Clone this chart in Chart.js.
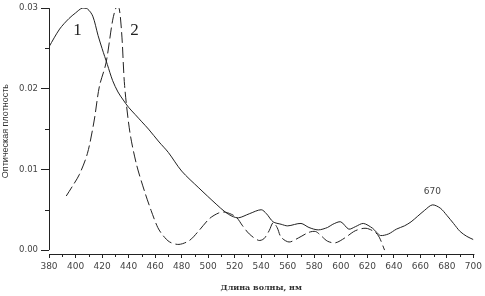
<!DOCTYPE html>
<html>
<head>
<meta charset="utf-8">
<script src="https://cdn.jsdelivr.net/npm/chart.js@4/dist/chart.umd.min.js"></script>
<style>
  html, body { margin: 0; padding: 0; background: #fff; }
  #wrap { width: 485px; height: 296px; }
</style>
</head>
<body>
<div id="wrap"><canvas id="spectrum"></canvas></div>
<script>
// Spectrum 1 (solid line)
const curve1Nm  = [380, 388, 395, 400, 405, 409, 413, 417, 420, 424, 428, 432, 436, 440, 445, 450, 455, 463, 470, 480, 493, 506, 513, 518, 523, 531, 540, 544, 549, 555, 560, 570, 576, 583, 590, 594, 600, 606, 611, 617, 624, 627, 630, 636, 642, 648, 653, 658, 663, 669, 675, 680, 685, 690, 695, 700];
const curve1Val = [0.0252, 0.0274, 0.0287, 0.0294, 0.0300, 0.0299, 0.0290, 0.0266, 0.0250, 0.0230, 0.0210, 0.0196, 0.0186, 0.0177, 0.0168, 0.0159, 0.0150, 0.0134, 0.0121, 0.0098, 0.0077, 0.0057, 0.0047, 0.0042, 0.0040, 0.0045, 0.0050, 0.0045, 0.0035, 0.0032, 0.0030, 0.0033, 0.0028, 0.0025, 0.0028, 0.0032, 0.0035, 0.0026, 0.0029, 0.0033, 0.0027, 0.0022, 0.0018, 0.0020, 0.0026, 0.0030, 0.0035, 0.0042, 0.0049, 0.0056, 0.0052, 0.0043, 0.0033, 0.0023, 0.0017, 0.0013];

// Spectrum 2 (dashed line)
const curve2Nm  = [393, 398, 403, 409, 414, 418, 423, 428, 431, 433, 435, 437, 441, 446, 452, 457, 462, 466, 471, 478, 486, 493, 501, 508, 513, 521, 526, 531, 538, 542, 546, 549, 552, 555, 561, 568, 576, 581, 585, 590, 596, 603, 611, 619, 626, 629, 633];
const curve2Val = [0.0067, 0.0080, 0.0094, 0.0120, 0.0160, 0.0203, 0.0232, 0.0285, 0.0302, 0.0299, 0.0264, 0.0204, 0.0146, 0.0106, 0.0073, 0.0049, 0.0028, 0.0018, 0.0010, 0.0007, 0.0012, 0.0024, 0.0039, 0.0046, 0.0047, 0.0041, 0.0030, 0.0020, 0.0012, 0.0014, 0.0024, 0.0034, 0.0028, 0.0016, 0.0010, 0.0015, 0.0022, 0.0023, 0.0018, 0.0011, 0.0009, 0.0015, 0.0024, 0.0027, 0.0022, 0.0016, 0.0000];

const xMajorTicks = [380, 400, 420, 440, 460, 480, 500, 520, 540, 560, 580, 600, 620, 640, 660, 680, 700];
const yMajorTicks = [0.00, 0.01, 0.02, 0.03];

// text marks on the plot: [nm, value, text]
const curveLabels = [[401.5, 0.0272, '1'], [444.5, 0.0272, '2']];
const peakLabels  = [[669, 0.0072, '670']];

const ink = '#222';

const toPoints = (xs, ys) => xs.map((x, i) => ({ x: x, y: ys[i] }));

// axes lines, minor ticks and the text marks
const decorations = {
    id: 'decorations',
    afterDraw(chart) {
        const c = chart.ctx;
        const xs = chart.scales.x, ys = chart.scales.y;
        const area = chart.chartArea;
        c.save();
        c.strokeStyle = ink;
        c.lineWidth = 1;
        c.beginPath();
        // y axis stops at zero, x axis sits a little below it
        c.moveTo(area.left + 0.5, area.top);
        c.lineTo(area.left + 0.5, ys.getPixelForValue(0));
        c.moveTo(area.left, area.bottom + 0.5);
        c.lineTo(area.right + 1, area.bottom + 0.5);
        // minor ticks
        for (let v = 390; v < 700; v += 20) {
            const px = Math.round(xs.getPixelForValue(v)) + 0.5;
            c.moveTo(px, area.bottom);
            c.lineTo(px, area.bottom + 3);
        }
        for (let v = 0.005; v < 0.03; v += 0.01) {
            const py = Math.round(ys.getPixelForValue(v)) + 0.5;
            c.moveTo(area.left, py);
            c.lineTo(area.left - 4, py);
        }
        c.stroke();

        c.fillStyle = ink;
        c.textAlign = 'center';
        c.textBaseline = 'middle';
        c.font = '17px "Liberation Serif"';
        curveLabels.forEach(([x, y, t]) => c.fillText(t, xs.getPixelForValue(x), ys.getPixelForValue(y)));
        c.font = '9px "DejaVu Sans"';
        c.fillStyle = '#444';
        peakLabels.forEach(([x, y, t]) => c.fillText(t, xs.getPixelForValue(x), ys.getPixelForValue(y)));
        c.restore();
    }
};

new Chart(document.getElementById('spectrum'), {
    type: 'line',
    data: {
        datasets: [
            {
                label: '1',
                data: toPoints(curve1Nm, curve1Val),
                borderColor: ink,
                borderWidth: 1,
                pointRadius: 0,
                tension: 0.3,
                fill: false
            },
            {
                label: '2',
                data: toPoints(curve2Nm, curve2Val),
                borderColor: ink,
                borderWidth: 1,
                borderDash: [11, 4],
                pointRadius: 0,
                tension: 0.3,
                fill: false
            }
        ]
    },
    options: {
        responsive: true,
        maintainAspectRatio: false,
        animation: false,
        layout: { padding: { top: 4, right: 9, left: 0, bottom: 0 } },
        plugins: {
            legend: { display: false },
            tooltip: { enabled: false }
        },
        scales: {
            x: {
                type: 'linear',
                min: 380,
                max: 700,
                afterBuildTicks: s => { s.ticks = xMajorTicks.map(v => ({ value: v })); },
                afterFit: s => { s.height = 42; },
                border: { display: false },
                grid: { drawOnChartArea: false, tickLength: 4, color: ink },
                ticks: {
                    color: '#444',
                    font: { family: 'DejaVu Sans', size: 9 },
                    padding: 3,
                    maxRotation: 0,
                    autoSkip: false
                },
                title: {
                    display: true,
                    text: 'Длина волны, нм',
                    color: '#333',
                    font: { family: 'DejaVu Serif', size: 8, weight: 'bold' },
                    padding: { top: 0, bottom: 3 }
                }
            },
            y: {
                min: -0.000488,
                max: 0.03,
                afterBuildTicks: s => { s.ticks = yMajorTicks.map(v => ({ value: v })); },
                afterFit: s => { s.width = 49; },
                border: { display: false },
                grid: { drawOnChartArea: false, tickLength: 8, color: ink },
                ticks: {
                    color: '#444',
                    font: { family: 'DejaVu Sans', size: 8.5 },
                    padding: 3,
                    callback: v => v.toFixed(2)
                },
                title: {
                    display: true,
                    text: 'Оптическая плотность',
                    color: '#333',
                    font: { family: 'Liberation Sans', size: 9 },
                    padding: { top: 0, bottom: 2 }
                }
            }
        }
    },
    plugins: [decorations]
});
</script>
</body>
</html>
